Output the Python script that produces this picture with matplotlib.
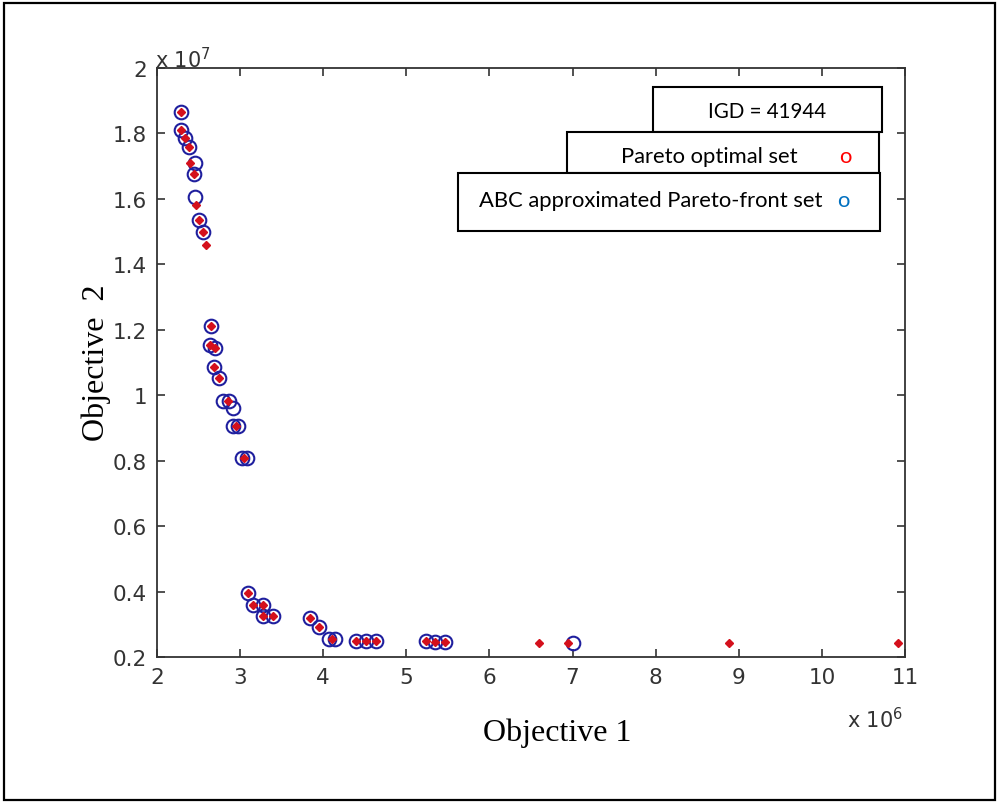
import matplotlib.pyplot as plt
from matplotlib.patches import Rectangle

# --- data (objective 1 in units of 1e6, objective 2 in units of 1e7) ---
pareto_x = [2.29, 2.29, 2.34, 2.38, 2.40, 2.44, 2.47, 2.51, 2.55, 2.59,
            2.65, 2.64, 2.70, 2.69, 2.75, 2.86, 2.95, 3.05,
            3.10, 3.15, 3.28, 3.27, 3.40, 3.84, 3.95, 4.10,
            4.39, 4.52, 4.64, 5.24, 5.35, 5.47, 6.60, 6.94, 8.88, 10.91]
pareto_y = [1.867, 1.809, 1.786, 1.758, 1.710, 1.677, 1.580, 1.537, 1.499, 1.458,
            1.211, 1.153, 1.143, 1.087, 1.054, 0.981, 0.905, 0.808,
            0.395, 0.359, 0.359, 0.324, 0.324, 0.318, 0.292, 0.255,
            0.250, 0.250, 0.250, 0.250, 0.247, 0.247, 0.242, 0.242, 0.242, 0.242]

abc_x = [2.29, 2.29, 2.34, 2.38, 2.46, 2.44, 2.46, 2.51, 2.55,
         2.65, 2.64, 2.70, 2.69, 2.75, 2.80, 2.87, 2.91, 2.92, 2.98, 3.02, 3.08,
         3.10, 3.15, 3.28, 3.27, 3.40, 3.84, 3.95, 4.07, 4.14,
         4.39, 4.52, 4.64, 5.24, 5.35, 5.47, 7.01]
abc_y = [1.867, 1.809, 1.786, 1.758, 1.710, 1.677, 1.606, 1.537, 1.499,
         1.211, 1.153, 1.143, 1.087, 1.054, 0.983, 0.981, 0.962, 0.905, 0.905, 0.808, 0.808,
         0.395, 0.359, 0.359, 0.324, 0.324, 0.318, 0.292, 0.255, 0.255,
         0.250, 0.250, 0.250, 0.250, 0.247, 0.247, 0.242]

x_ticks = [2, 3, 4, 5, 6, 7, 8, 9, 10, 11]
y_ticks = [0.2, 0.4, 0.6, 0.8, 1, 1.2, 1.4, 1.6, 1.8, 2]
igd_value = 41944

W, H = 998, 804
tick_font = ['Liberation Sans Narrow', 'DejaVu Sans']

fig = plt.figure(figsize=(W / 100, H / 100), dpi=100)

# outer frame around the whole picture
fig.add_artist(Rectangle((4 / W, 1 - 801 / H), 991 / W, 797 / H, transform=fig.transFigure,
                         fill=False, edgecolor='black', linewidth=1.6))

ax = fig.add_axes([157 / W, 1 - 658 / H, (905 - 157) / W, (658 - 69) / H])

ax.plot(abc_x, abc_y, linestyle='none', marker='o', markersize=9.8,
        markerfacecolor='none', markeredgecolor='#1f1f9e', markeredgewidth=1.5)
ax.plot(pareto_x, pareto_y, linestyle='none', marker='D', markersize=4.3,
        color='#d4101c')

ax.set_xlim(2, 11)
ax.set_ylim(0.2, 2)
ax.set_xticks(x_ticks)
ax.set_yticks(y_ticks)
ax.set_xticklabels([str(t) for t in x_ticks])
ax.set_yticklabels(['%g' % t for t in y_ticks])
ax.tick_params(direction='in', length=6, width=1.2, top=True, right=True,
               colors='#333333', labelsize=15.5, pad=7)
for lab in ax.get_xticklabels() + ax.get_yticklabels():
    lab.set_family(tick_font)
for s in ax.spines.values():
    s.set_linewidth(1.3)
    s.set_color('#333333')

# MATLAB style exponent labels
fig.text(155 / W, 1 - 60 / H, r'x 10$^{\mathregular{7}}$', fontsize=15, family=tick_font,
         color='#333333', ha='left', va='center')
fig.text(903 / W, 1 - 720 / H, r'x 10$^{\mathregular{6}}$', fontsize=15, family=tick_font,
         color='#333333', ha='right', va='center')

# axis labels
fig.text(557 / W, 1 - 733 / H, 'Objective 1', fontsize=23, family='Liberation Serif',
         ha='center', va='center')
fig.text(96 / W, 1 - 363 / H, 'Objective  2', fontsize=23, family='Liberation Serif',
         ha='center', va='center', rotation=90)

# hand-drawn legend boxes
box_font = ['Lato', 'DejaVu Sans']


def box(x0, y0, x1, y1):
    fig.add_artist(Rectangle((x0 / W, 1 - y1 / H), (x1 - x0) / W, (y1 - y0) / H,
                             transform=fig.transFigure, facecolor='white',
                             edgecolor='black', linewidth=1.5, zorder=5))


box(653, 88, 882, 133)
fig.text(767 / W, 1 - 112 / H, 'IGD = %d' % igd_value, fontsize=14.8, family=box_font,
         ha='center', va='center', zorder=6)

box(567, 133, 879, 174)
fig.text(621 / W, 1 - 157 / H, 'Pareto optimal set', fontsize=15.8, family=box_font,
         ha='left', va='center', zorder=6)
fig.text(845 / W, 1 - 157 / H, 'o', fontsize=15.8, family=box_font, color='#ff0000',
         ha='center', va='center', zorder=6)

box(458, 174, 880, 232)
fig.text(479 / W, 1 - 201 / H, 'ABC approximated Pareto-front set', fontsize=15.8,
         family=box_font, ha='left', va='center', zorder=6)
fig.text(843 / W, 1 - 201 / H, 'o', fontsize=15.8, family=box_font, color='#0070c0',
         ha='center', va='center', zorder=6)

fig.savefig('out.png', dpi=100)
